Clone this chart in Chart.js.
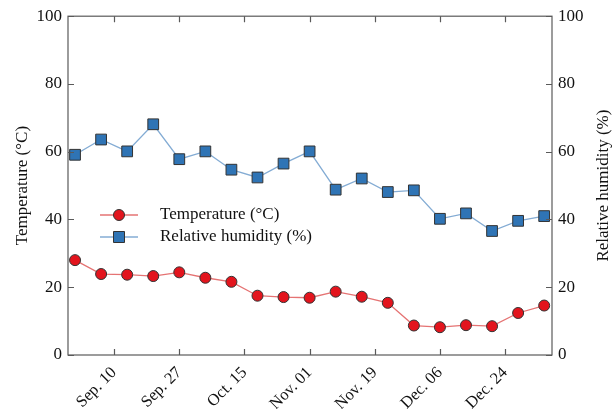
<!DOCTYPE html>
<html>
<head>
<meta charset="utf-8">
<script src="https://cdn.jsdelivr.net/npm/chart.js@4/dist/chart.umd.min.js"></script>
<style>
  html, body { margin: 0; padding: 0; background: #fff; }
  #wrap { width: 613px; height: 409px; position: relative; }
</style>
</head>
<body>
<div id="wrap"><canvas id="chart"></canvas></div>
<script>
// weekly samples, x = sample index
const temperature = [28.0, 23.9, 23.7, 23.3, 24.4, 22.8, 21.6, 17.5, 17.1, 16.9, 18.7, 17.2, 15.4, 8.7, 8.2, 8.8, 8.5, 12.4, 14.6];
const humidity = [59.1, 63.6, 60.1, 68.1, 57.8, 60.1, 54.7, 52.4, 56.5, 60.1, 48.8, 52.1, 48.1, 48.6, 40.2, 41.8, 36.6, 39.6, 41.0];
// date ticks fall between samples
const tickPositions = [1.5, 4, 6.5, 9, 11.5, 14, 16.5];
const tickLabels = ['Sep. 10', 'Sep. 27', 'Oct. 15', 'Nov. 01', 'Nov. 19', 'Dec. 06', 'Dec. 24'];
const yTicks = [0, 20, 40, 60, 80, 100];

const FONT = '"Liberation Serif", "Times New Roman", serif';
const AXIS = '#5a5a5a';
const RED = '#e3141d', RED_LINE = '#e57373';
const BLUE = '#2f74b5', BLUE_LINE = '#84acd4';

const toPoints = arr => arr.map((v, i) => ({ x: i, y: v }));

// inside ticks, full box frame, legend and right title
const framePlugin = {
    id: 'frame',
    afterDraw(chart) {
        const { ctx, chartArea: a, scales } = chart;
        const tl = 6;
        ctx.save();
        ctx.strokeStyle = AXIS;
        ctx.lineWidth = 1.2;
        ctx.strokeRect(a.left, a.top, a.right - a.left, a.bottom - a.top);
        ctx.beginPath();
        tickPositions.forEach(v => {
            const px = Math.round(scales.x.getPixelForValue(v)) + 0.5;
            ctx.moveTo(px, a.bottom); ctx.lineTo(px, a.bottom - tl);
            ctx.moveTo(px, a.top); ctx.lineTo(px, a.top + tl);
        });
        yTicks.forEach(v => {
            const py = Math.round(scales.y.getPixelForValue(v)) + 0.5;
            ctx.moveTo(a.left, py); ctx.lineTo(a.left + tl, py);
            const pr = Math.round(scales.y2.getPixelForValue(v)) + 0.5;
            ctx.moveTo(a.right, pr); ctx.lineTo(a.right - tl, pr);
        });
        ctx.stroke();

        // legend
        const items = chart.data.datasets;
        const lx = 100, ly = 215, gap = 22;
        items.forEach((ds, i) => {
            const y = ly + i * gap;
            ctx.strokeStyle = ds.borderColor;
            ctx.lineWidth = 1.5;
            ctx.beginPath();
            ctx.moveTo(lx, y); ctx.lineTo(lx + 38, y);
            ctx.stroke();
            ctx.fillStyle = ds.pointBackgroundColor;
            ctx.strokeStyle = ds.pointBorderColor;
            ctx.lineWidth = 1;
            ctx.beginPath();
            if (ds.pointStyle === 'rect') {
                ctx.rect(lx + 19 - 5.5, y - 5.5, 11, 11);
            } else {
                ctx.arc(lx + 19, y, 5.5, 0, Math.PI * 2);
            }
            ctx.fill(); ctx.stroke();
            ctx.fillStyle = '#111';
            ctx.font = '17px ' + FONT;
            ctx.textBaseline = 'middle';
            ctx.textAlign = 'left';
            ctx.fillText(ds.label, lx + 60, y);
        });

        // right axis title, reading bottom to top
        ctx.translate(604, (a.top + a.bottom) / 2);
        ctx.rotate(-Math.PI / 2);
        ctx.fillStyle = '#111';
        ctx.font = '17px ' + FONT;
        ctx.textAlign = 'center';
        ctx.textBaseline = 'middle';
        ctx.fillText('Relative humidity (%)', 0, 0);
        ctx.restore();
    }
};

new Chart(document.getElementById('chart'), {
    type: 'line',
    data: {
        datasets: [
            {
                label: 'Temperature (\u00B0C)',
                data: toPoints(temperature),
                yAxisID: 'y',
                borderColor: RED_LINE,
                borderWidth: 1.3,
                pointStyle: 'circle',
                pointRadius: 5.5,
                pointBackgroundColor: RED,
                pointBorderColor: '#333',
                pointBorderWidth: 1,
                tension: 0
            },
            {
                label: 'Relative humidity (%)',
                data: toPoints(humidity),
                yAxisID: 'y2',
                borderColor: BLUE_LINE,
                borderWidth: 1.3,
                pointStyle: 'rect',
                pointRadius: 7.6,
                pointBackgroundColor: BLUE,
                pointBorderColor: '#333',
                pointBorderWidth: 1,
                tension: 0
            }
        ]
    },
    options: {
        responsive: true,
        maintainAspectRatio: false,
        animation: false,
        layout: { padding: { top: 15, left: 0, right: 0, bottom: 0 } },
        plugins: {
            legend: { display: false },
            tooltip: { enabled: false }
        },
        scales: {
            x: {
                type: 'linear',
                min: -0.27,
                max: 18.3,
                grid: { display: false, tickLength: 0 },
                border: { display: false },
                afterBuildTicks: scale => {
                    scale.ticks = tickPositions.map(v => ({ value: v }));
                },
                afterFit: scale => { scale.height = 54; },
                ticks: {
                    autoSkip: false,
                    minRotation: 45,
                    maxRotation: 45,
                    padding: 8,
                    color: '#111',
                    font: { family: FONT, size: 16.5 },
                    callback: (v, i) => tickLabels[i]
                }
            },
            y: {
                position: 'left',
                min: 0,
                max: 100,
                grid: { display: false, tickLength: 0 },
                border: { display: false },
                afterBuildTicks: scale => {
                    scale.ticks = yTicks.map(v => ({ value: v }));
                },
                afterFit: scale => { scale.width = 68; },
                ticks: {
                    padding: 6,
                    color: '#111',
                    font: { family: FONT, size: 17 }
                },
                title: {
                    display: true,
                    text: 'Temperature (\u00B0C)',
                    color: '#111',
                    font: { family: FONT, size: 17 },
                    padding: { top: 12, bottom: 0 }
                }
            },
            y2: {
                position: 'right',
                min: 0,
                max: 100,
                grid: { display: false, tickLength: 0 },
                border: { display: false },
                afterBuildTicks: scale => {
                    scale.ticks = yTicks.map(v => ({ value: v }));
                },
                afterFit: scale => { scale.width = 61; },
                ticks: {
                    padding: 6,
                    color: '#111',
                    font: { family: FONT, size: 17 }
                }
            }
        }
    },
    plugins: [framePlugin]
});
</script>
</body>
</html>
